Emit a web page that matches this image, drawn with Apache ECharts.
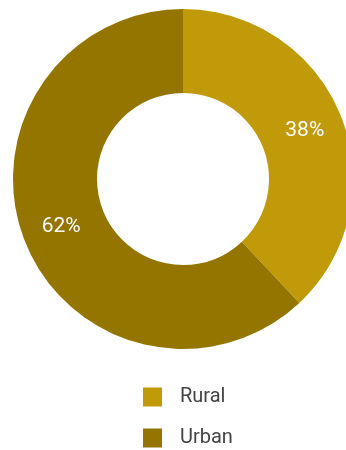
<!DOCTYPE html>
<html>
<head>
<meta charset="utf-8">
<script src="https://cdn.jsdelivr.net/npm/echarts@6/dist/echarts.min.js"></script>
<style>
  html, body { margin: 0; padding: 0; background: #ffffff; }
  #chart { width: 346px; height: 450px; }
</style>
</head>
<body>
<div id="chart"></div>
<script>
// Population share by area type
const categories = ['Rural', 'Urban'];
const shares = [38, 62];
const colors = ['#C09A08', '#947500'];

const FONT = 'Roboto, "Noto Sans", sans-serif';

const chart = echarts.init(document.getElementById('chart'), null, { renderer: 'canvas' });

chart.setOption({
  animation: false,
  color: colors,
  legend: {
    orient: 'vertical',
    left: 143,
    top: 387,
    height: 120,
    padding: 0,
    itemWidth: 19,
    itemHeight: 19,
    itemGap: 21,
    icon: 'rect',
    data: categories,
    textStyle: {
      fontFamily: FONT,
      fontSize: 20,
      color: '#444444',
      padding: [0, 0, 0, 13]
    }
  },
  series: [{
    type: 'pie',
    center: [183, 179],
    radius: [86, 170],
    startAngle: 90,
    clockwise: true,
    avoidLabelOverlap: false,
    silent: true,
    itemStyle: { borderWidth: 0 },
    label: {
      show: true,
      position: 'inside',
      formatter: '{c}%',
      color: '#ffffff',
      fontFamily: FONT,
      fontSize: 21,
      padding: [6, 0, 0, 0]
    },
    labelLine: { show: false },
    data: categories.map((name, i) => ({ name: name, value: shares[i] }))
  }]
});
</script>
</body>
</html>
